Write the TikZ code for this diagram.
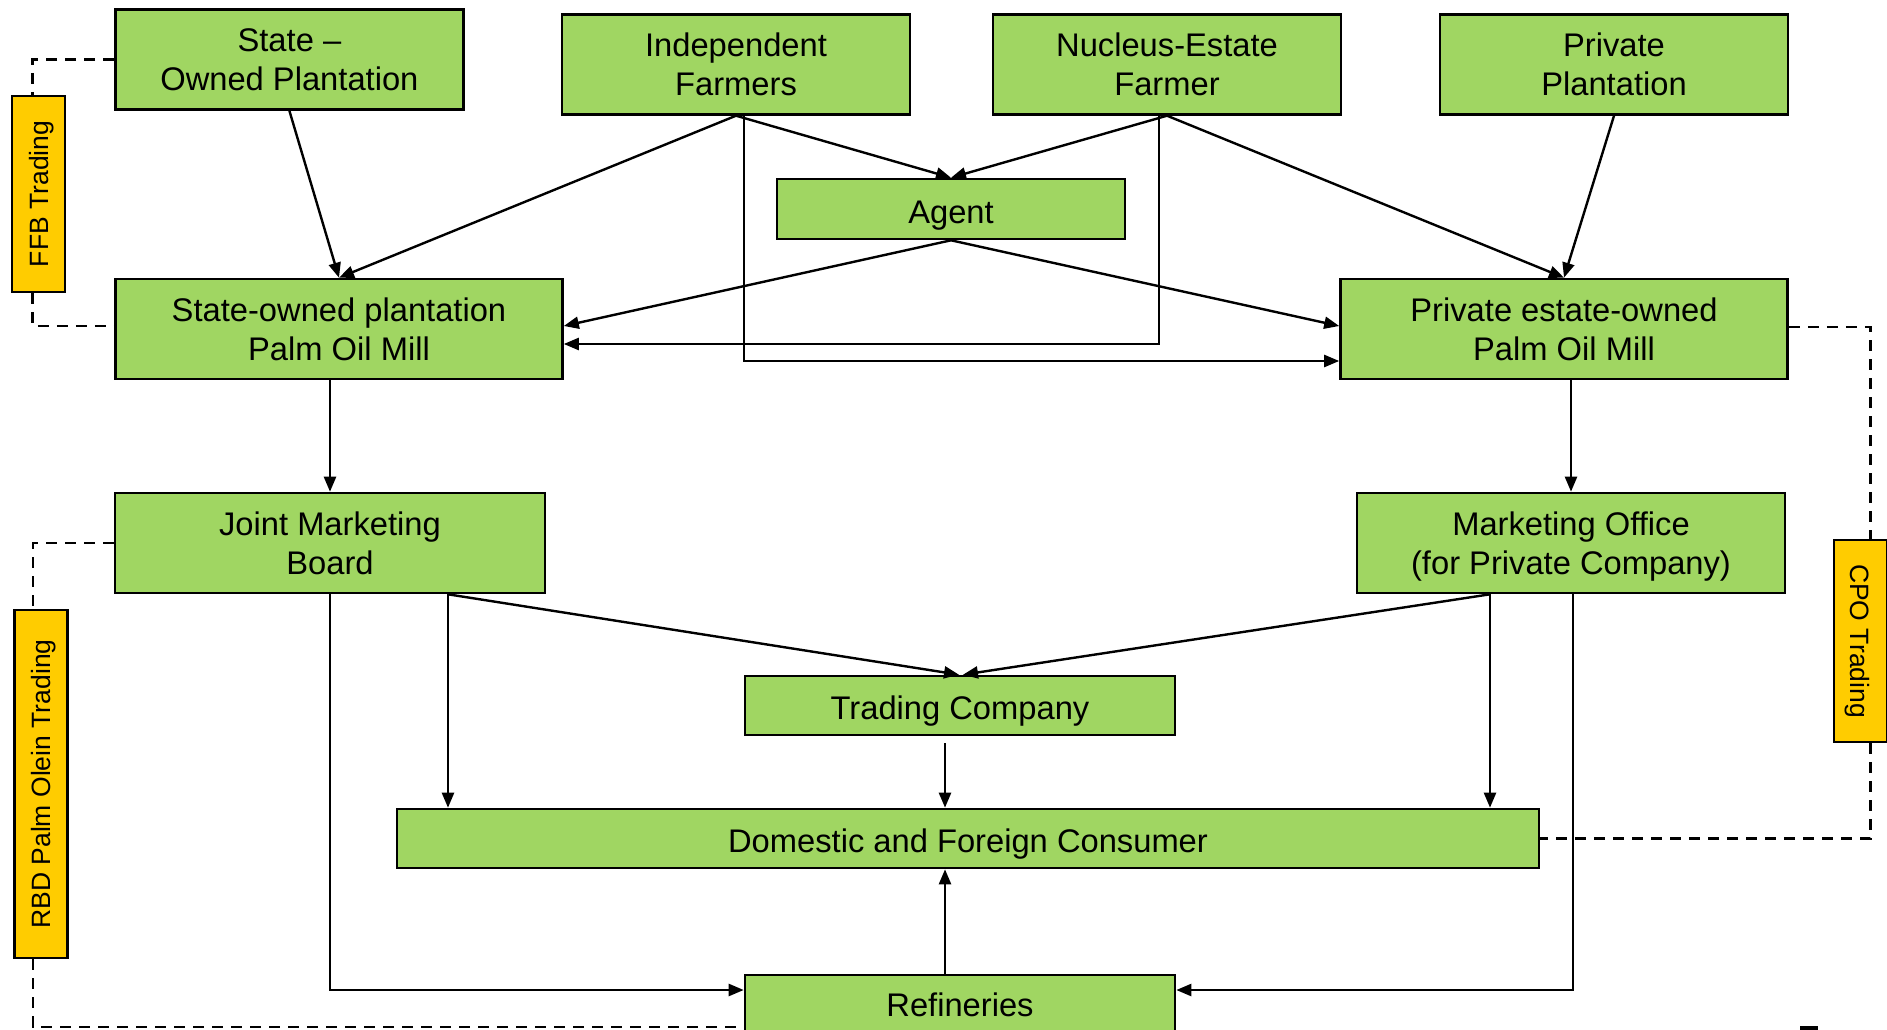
\documentclass[tikz,border=0pt]{standalone}
\usepackage{fontspec}
\setmainfont{Liberation Sans}
\usetikzlibrary{arrows.meta}
\definecolor{boxgreen}{RGB}{160,214,98}
\definecolor{tagyellow}{RGB}{255,204,0}

\begin{document}
\begin{tikzpicture}[x=1pt, y=-1pt,
    box/.style={draw, fill=boxgreen, line width=2.6pt, align=center, inner sep=0pt,
      text depth=0pt, font=\fontsize{32.7}{39}\selectfont},
    oneline/.style={text height=28pt},
    tag/.style={draw, fill=tagyellow, line width=2.6pt, inner sep=0pt, text depth=0pt,
      minimum height=53pt, font=\fontsize{26.5}{32}\selectfont},
    arr/.style={line width=2.4pt, -{Triangle[length=15pt,width=12pt]}},
    trade/.style={line width=2.4pt, dash pattern=on 11pt off 8pt}
    ]
    \useasboundingbox (0,0) rectangle (1887,1030);

    % growers
    \node[box, minimum width=348pt, minimum height=100pt] (sop) at (289.4,59.5) {State –\\Owned Plantation};
    \node[box, minimum width=348pt, minimum height=100pt] (ind) at (736,64.4) {Independent\\Farmers};
    \node[box, minimum width=348pt, minimum height=100pt] (nuc) at (1167,64.4) {Nucleus-Estate\\Farmer};
    \node[box, minimum width=348pt, minimum height=100pt] (pp) at (1614,64.4) {Private\\Plantation};
    \node[box, oneline, minimum width=348pt, minimum height=60pt] (agent) at (951,209) {Agent};

    % mills and marketing
    \node[box, minimum width=447pt, minimum height=100pt] (smill) at (339,329) {State-owned plantation\\Palm Oil Mill};
    \node[box, minimum width=447pt, minimum height=100pt] (pmill) at (1564,329) {Private estate-owned\\Palm Oil Mill};
    \node[box, minimum width=430pt, minimum height=100pt] (jmb) at (330,543) {Joint Marketing\\Board};
    \node[box, minimum width=428pt, minimum height=100pt] (mo) at (1571,543) {Marketing Office\\(for Private Company)};
    \node[box, oneline, minimum width=430pt, minimum height=59pt] (trade) at (960,705.5) {Trading Company};
    \node[box, oneline, minimum width=1142pt, minimum height=59pt] (cons) at (968,838.5) {Domestic and Foreign Consumer};
    \node[box, minimum width=430pt, minimum height=59pt] (ref) at (960,1004.5) {Refineries};

    % trading tags
    \node[tag, rotate=90, minimum width=196pt] (ffb) at (38.5,194) {FFB Trading};
    \node[tag, rotate=90, minimum width=348pt] (rbd) at (41,784) {RBD Palm Olein Trading};
    \node[tag, rotate=-90, minimum width=202pt] (cpo) at (1860.5,641) {CPO Trading};

    % FFB flows
    \draw[arr] (sop.south) -- (smill.north);
    \draw[arr] (ind.south) -- (smill.north);
    \draw[arr] (ind.south) -- (agent.north);
    \draw[arr] ([xshift=8pt]ind.south) |- ([yshift=-32pt]pmill.west);
    \draw[arr] (nuc.south) -- (agent.north);
    \draw[arr] ([xshift=-8pt]nuc.south) |- ([yshift=-15pt]smill.east);
    \draw[arr] (nuc.south) -- (pmill.north);
    \draw[arr] (pp.south) -- (pmill.north);
    \draw[arr] (agent.south) -- ([yshift=3pt]smill.east);
    \draw[arr] (agent.south) -- ([yshift=3pt]pmill.west);

    % CPO flows
    \draw[arr] (jmb.north |- smill.south) -- (jmb.north);
    \draw[arr] (mo.north |- pmill.south) -- (mo.north);
    \coordinate (jo) at ([xshift=118pt]jmb.south);
    \coordinate (mi) at ([xshift=-81pt]mo.south);
    \coordinate (tc) at ([xshift=-15pt,yshift=-7pt]trade.south);
    \coordinate (rc) at ([xshift=-15pt]ref.north);
    \draw[arr] (jo) -- ([xshift=-1pt]trade.north);
    \draw[arr] (jo) -- (jo |- cons.north);
    \draw[arr] (mi) -- ([xshift=3pt]trade.north);
    \draw[arr] (mi) -- (mi |- cons.north);
    \draw[arr] (tc) -- (tc |- cons.north);
    \draw[arr] (rc) -- (rc |- cons.south);
    \draw[arr] (jmb.south) |- ([yshift=14.5pt]ref.west);
    \draw[arr] ([xshift=2pt]mo.south) |- ([yshift=14.5pt]ref.east);

    % trading links
    \draw[trade] (sop.west) -| ([xshift=-6pt]ffb.east);
    \draw[trade] ([xshift=-6pt]ffb.west) |- ([yshift=3pt]smill.west);
    \draw[trade] (jmb.west) -| ([xshift=-8pt]rbd.east);
    \draw[trade] ([xshift=-8pt]rbd.west) |- ([yshift=-22.5pt]ref.west);
    \draw[trade] ([yshift=2pt]pmill.east) -| ([xshift=10pt]cpo.west);
    \draw[trade] ([xshift=10pt]cpo.east) |- (cons.east);

    \fill (1800,1026) rectangle (1818,1030);
  \end{tikzpicture}
\end{document}
